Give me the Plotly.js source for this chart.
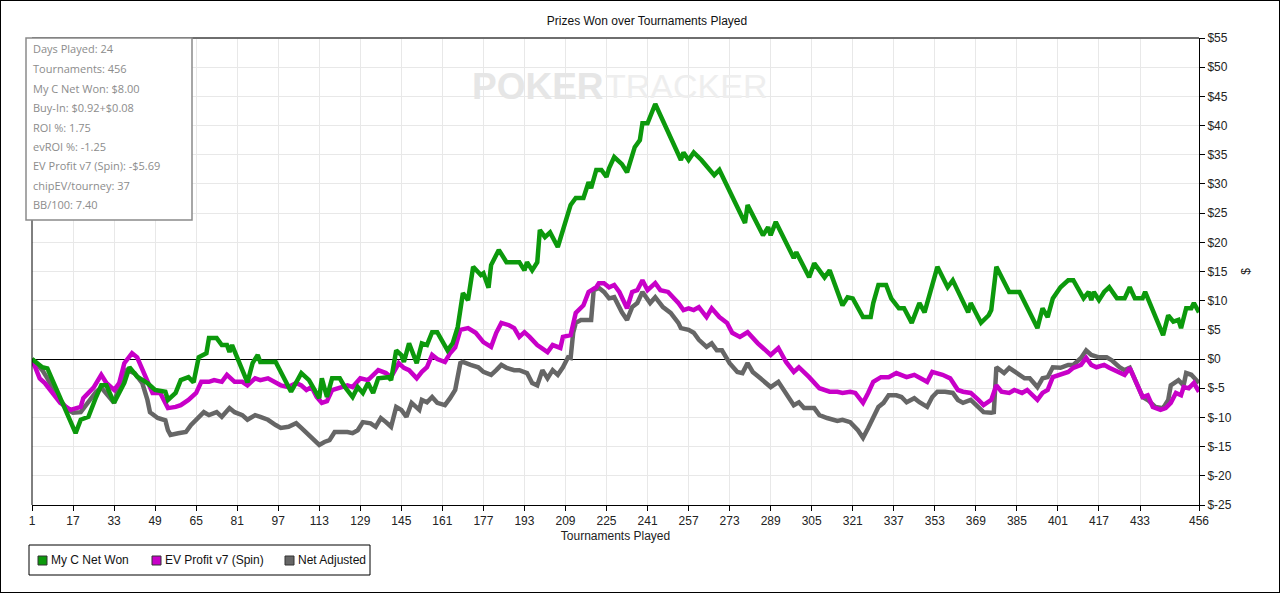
<!DOCTYPE html>
<html>
<head>
<meta charset="utf-8">
<script src="https://cdn.plot.ly/plotly-3.0.1.min.js"></script>
<style>
html,body{margin:0;padding:0;background:#fff;}
#wrap{position:relative;width:1280px;height:593px;}
#chart{position:absolute;left:0;top:0;width:1280px;height:593px;}
#frame{position:absolute;left:0;top:0;width:1280px;height:593px;box-sizing:border-box;border:1px solid #000;pointer-events:none;}
</style>
</head>
<body>
<div id="wrap"><div id="chart"></div><div id="frame"></div></div>
<script>
// ---- Data (tournament number, cumulative $) ----
const netWonT = [1,3,5,7,18,20,23,26,28,30,33,37,39,42,46,49,53,54,57,59,62,64,66,69,70,73,75,77,78,79,85,87,89,90,96,102,106,109,113,114,116,118,121,123,126,128,130,132,134,136,140,141,143,145,146,148,151,153,155,157,159,163,165,167,169,171,173,176,177,179,180,183,186,191,193,194,196,198,199,201,203,206,209,211,213,216,218,219,221,223,225,226,228,231,233,236,238,239,241,244,254,255,257,259,262,265,267,269,279,280,286,288,289,291,298,299,304,306,310,312,317,319,321,325,328,329,331,334,336,339,341,344,347,349,352,354,358,360,366,367,371,374,375,377,382,386,393,395,397,399,402,405,407,411,413,414,415,417,419,421,424,427,429,431,434,435,442,444,446,448,449,451,453,454,456];
const netWonV = [0,-0.7,-1.4,-1.6,-12.7,-10.4,-9.9,-6.5,-4.5,-4.5,-7.5,-4.1,-1.4,-3,-4.1,-5.3,-5.6,-7,-5.8,-3.6,-3.1,-4,0.3,1,3.6,3.6,2.4,2.4,1.2,2.4,-4,-0.7,0.7,-0.5,-0.5,-5.6,-2.4,-3.6,-6.7,-3.3,-6.5,-3.3,-3.3,-4.8,-6.5,-4.8,-5.8,-4.1,-5.8,-3.3,-3.1,-3.6,1.5,0.7,-0.5,2.7,-0.7,2.7,2.4,4.6,4.6,1.5,2.7,5.5,11.3,10.1,15.8,14.4,14.7,12.2,16.1,18.7,16.6,16.6,15.2,16.6,15.2,16.6,22.1,20.9,21.7,19.2,23.5,26.4,27.6,27.6,30.3,29.3,32.4,32.4,31.2,32.7,34.6,33.4,32,36.3,37.5,40.4,40.4,43.7,34.1,35.4,34.1,35.4,34.1,32.4,31.5,32.4,23.3,26.4,21.2,22.6,21.2,23.5,17.3,18.3,14,16.4,14,15.2,9.2,10.6,10.4,7.2,7.2,9.6,12.7,12.7,10.4,8.7,8.7,6.2,9.6,8,12.3,15.8,12.3,13.5,8,9.6,6.2,7.5,8.4,15.8,11.5,11.5,5.3,8.7,7.2,10.4,12.3,13.5,13.5,10.4,11.5,10.1,11.5,10.1,11.5,12.3,10.4,10.4,12.3,10.4,10.4,11.5,4.1,7.5,6.4,6.7,5.3,8.7,8.7,9.6,8];

const evT = [1,4,6,8,12,16,18,20,21,23,25,28,30,33,35,37,40,42,44,46,48,51,54,57,59,62,65,67,70,72,75,77,80,83,85,88,90,93,96,98,101,104,106,108,110,112,114,116,118,121,124,126,129,132,134,136,139,141,144,146,148,151,153,155,157,159,162,164,166,168,171,174,177,180,182,184,187,189,191,193,195,198,202,204,207,208,211,213,216,218,221,222,224,226,228,230,233,235,237,239,241,244,246,249,253,255,257,259,261,264,266,269,272,274,277,280,284,289,292,295,298,300,304,308,312,315,317,320,322,325,327,329,332,335,338,342,345,350,352,356,359,362,364,367,370,372,375,377,379,382,384,387,389,393,395,397,399,402,405,407,410,412,414,416,419,421,424,427,429,431,434,436,438,441,443,445,447,449,450,452,454,456];
const evV = [0,-3.3,-4.1,-5.3,-7.5,-8.7,-8.4,-8.2,-6.7,-5.8,-4.9,-2.7,-4.1,-5.3,-4.1,-0.7,1,0.3,-1.9,-3.6,-5.8,-5.8,-8.4,-8.2,-7.9,-7,-5.8,-3.9,-3.9,-3.6,-3.9,-2.7,-3.9,-3.9,-4.5,-3.3,-3.6,-3.3,-3.9,-4.5,-4.8,-4.1,-4.5,-5.3,-4.8,-6.5,-7.5,-7.2,-5.3,-4.8,-4.5,-4.8,-3.3,-3.6,-2.7,-1.9,-2.4,-3.1,-0.7,-1.5,-1.9,-3.3,-2.2,-1.4,0.7,0,-0.5,1,2,5,5.3,4.5,2.9,2.1,4.5,6.2,5.8,5.3,3.8,4.6,3.8,2.4,1.2,2.4,1.9,3.8,4.1,7.9,9.2,11.5,12.3,13,13,12.3,12.7,11.5,8.7,11.5,11.8,13.5,11.8,13,11.8,11.5,9.6,8.4,8.7,8.4,8.9,7.2,8.7,7.2,6.2,4.5,3.8,4.6,2.7,0.7,1.9,-0.5,-2.2,-1.4,-3.1,-5,-5.6,-5.6,-5.8,-5.6,-5.8,-7.5,-5.8,-3.9,-3.1,-3.1,-2.4,-3.1,-2.7,-3.9,-2.2,-2.7,-3.3,-5.3,-5.6,-5.8,-7,-7.9,-7,-4.5,-5.6,-5.8,-5.3,-5.8,-5.3,-7,-5.8,-5.3,-3.1,-2.7,-2.2,-1.5,-1,0.2,-1,-1.4,-1,-1.5,-2.2,-2.7,-1.5,-3.6,-6.5,-6.2,-8.2,-8.7,-8.4,-7.5,-5.8,-6.2,-4.8,-5,-4.1,-5.6];

const adjT = [1,5,7,11,15,17,20,23,26,28,31,33,35,38,41,44,46,47,50,53,54,55,58,61,63,66,68,70,73,75,78,80,83,85,88,90,93,96,98,101,104,106,109,111,113,115,117,119,121,124,126,128,130,133,135,137,139,141,143,145,147,149,152,153,155,157,159,162,164,166,168,169,172,175,177,180,182,184,186,189,191,194,196,198,200,202,204,206,208,210,211,212,213,215,217,219,220,222,224,226,228,231,233,235,237,239,242,244,247,250,253,254,257,259,261,264,266,268,270,273,276,278,280,282,285,289,292,295,298,300,302,306,308,311,313,315,317,320,323,325,327,329,331,333,335,338,340,342,345,347,350,352,354,357,360,362,364,367,370,372,375,376,377,380,382,385,388,390,393,395,397,399,402,405,407,410,412,414,417,420,422,425,427,429,431,434,436,439,442,444,445,448,450,451,453,456];
const adjV = [0,-1.9,-3.3,-6.5,-8.7,-9.2,-9.1,-7.4,-5.6,-4.9,-6.5,-7.5,-4.5,-1.9,-2.4,-4.1,-7,-9.1,-10.1,-10.5,-12.2,-13,-12.7,-12.5,-11.3,-9.9,-9.1,-9.6,-9.1,-9.9,-8.4,-9.1,-9.6,-10.4,-9.6,-9.9,-10.4,-11.3,-11.8,-11.6,-11,-11.8,-13,-13.9,-14.7,-14.2,-13.9,-12.5,-12.5,-12.5,-12.7,-12.2,-10.8,-11,-11.6,-10.1,-10.8,-11.6,-8.2,-8.7,-9.9,-7.5,-8.7,-7,-7.4,-6.5,-7.5,-7.9,-6.7,-5.3,-0.7,-0.5,-1,-1.4,-2.2,-2.7,-1.9,-1,-1.5,-1.9,-1.9,-2.4,-4.1,-4.5,-1.9,-3.3,-1.9,-2.7,-1.4,0.3,0.2,4.5,6.2,6.7,6.7,6.7,11.8,12.2,11.5,10.4,10.6,8,6.7,8.9,9.6,11.5,9.6,10.6,8.9,7.9,6.2,5.3,5,4.5,3.3,2.1,2.7,1.5,1.5,-0.7,-2.2,-2.4,-0.7,-2.2,-3.3,-4.8,-3.9,-5.8,-7.9,-7.4,-8.4,-8.4,-9.6,-10.1,-10.4,-10.6,-10.4,-10.8,-12.2,-13.5,-11.8,-10.1,-8.2,-7.5,-6.2,-6.2,-6.5,-7.4,-6.7,-7.4,-8.2,-6.5,-5.6,-5.6,-5.8,-7,-7.5,-7,-8.2,-9.1,-9.2,-9.1,-1.4,-2.4,-1.5,-2.4,-3.3,-3.3,-4.8,-3.3,-3.1,-1.4,-1.5,-1,-1,0.2,1.5,0.7,0.3,0.3,-0.2,-1.4,-1.9,-1.5,-3.6,-6.5,-7,-8.2,-8.4,-7,-4.5,-3.6,-4.5,-2.4,-2.7,-4.1];

const xTicks = [1,17,33,49,65,81,97,113,129,145,161,177,193,209,225,241,257,273,289,305,321,337,353,369,385,401,417,433,456];
const yTicks = [-25,-20,-15,-10,-5,0,5,10,15,20,25,30,35,40,45,50,55];
const yTickText = yTicks.map(v => '$' + v);

const seriesNames = ['My C Net Won','EV Profit v7 (Spin)','Net Adjusted'];
const seriesColors = ['#0c990c','#c800c8','#666666'];

const statsLines = ['Days Played: 24','Tournaments: 456','My C Net Won: $8.00','Buy-In: $0.92+$0.08','ROI %: 1.75','evROI %: -1.25','EV Profit v7 (Spin): -$5.69','chipEV/tourney: 37','BB/100: 7.40'];

// ---- Layout helpers (pixel -> paper) ----
const W = 1280, H = 593, ML = 32, MR = 81, MT = 38, MB = 88;
const PW = W - ML - MR, PH = H - MT - MB;
const px = x => (x - ML) / PW;
const py = y => (H - MB - y) / PH;

const traces = [
  {x: adjT, y: adjV, name: seriesNames[2], mode: 'lines', line: {color: seriesColors[2], width: 4.5}},
  {x: evT, y: evV, name: seriesNames[1], mode: 'lines', line: {color: seriesColors[1], width: 4.5}},
  {x: netWonT, y: netWonV, name: seriesNames[0], mode: 'lines', line: {color: seriesColors[0], width: 4.5}}
];

const font = 'Liberation Sans, Arial, sans-serif';
const shapes = [
  {type:'line', xref:'paper', yref:'paper', x0:0, x1:1, y0:1, y1:1, line:{color:'#6e6e6e', width:2}},
  {type:'line', xref:'paper', yref:'paper', x0:0, x1:0, y0:0, y1:1, line:{color:'#000', width:1}},
  // stats box
  {type:'rect', xref:'paper', yref:'paper', x0:px(26), x1:px(192), y0:py(220), y1:py(38), fillcolor:'#fff', line:{color:'#8a8a8a', width:1.5}, layer:'above'},
  // legend box
  {type:'rect', xref:'paper', yref:'paper', x0:px(29), x1:px(370), y0:py(575), y1:py(545), fillcolor:'#fff', line:{color:'#000', width:1}}
];
const annotations = [
  {xref:'paper', yref:'paper', x:px(470), y:py(86), xanchor:'left', yanchor:'middle', text:'<b>POKER</b>', showarrow:false, font:{family:font, size:37, color:'#e6e6e6'}},
  {xref:'paper', yref:'paper', x:px(603), y:py(86), xanchor:'left', yanchor:'middle', text:'TRACKER', showarrow:false, font:{family:font, size:34, color:'#eeeeee'}}
];
const statY = [49,68,88,107,127,146,165,185,204];
statsLines.forEach((t, i) => {
  annotations.push({xref:'paper', yref:'paper', x:px(31), y:py(statY[i]), xanchor:'left', yanchor:'middle', text:t, showarrow:false, font:{family:'Open Sans, Noto Sans, sans-serif', size:11, color:'#8c8c8c'}});
});
const legX = [38, 152, 285];
[0,1,2].forEach(i => {
  shapes.push({type:'rect', xref:'paper', yref:'paper', x0:px(legX[i]), x1:px(legX[i]+9), y0:py(565), y1:py(556), fillcolor:seriesColors[i], line:{color:'#333', width:1}});
  annotations.push({xref:'paper', yref:'paper', x:px(legX[i]+11), y:py(560), xanchor:'left', yanchor:'middle', text:seriesNames[i], showarrow:false, font:{family:font, size:12, color:'#111'}});
});

const layout = {
  width: W, height: H,
  margin: {l: ML, r: MR, t: MT, b: MB},
  paper_bgcolor: '#fff', plot_bgcolor: '#fff',
  showlegend: false,
  title: {text: 'Prizes Won over Tournaments Played', x: px(647), xref: 'paper', xanchor: 'center', y: 1 - 21 / H, yanchor: 'middle', font: {family: font, size: 12, color: '#111'}},
  xaxis: {range: [1, 456], tickvals: xTicks, ticktext: xTicks.map(String), ticks: 'outside', ticklen: 5, tickcolor: '#000',
          showline: true, linecolor: '#000', linewidth: 1, gridcolor: '#e8e8e8', zeroline: false,
          tickfont: {family: font, size: 12, color: '#222'},
          title: {text: 'Tournaments Played', standoff: 4, font: {family: font, size: 12, color: '#222'}}},
  yaxis: {side: 'right', range: [-25, 55], tickvals: yTicks, ticktext: yTickText, ticks: 'outside', ticklen: 5, tickcolor: '#000',
          showline: true, linecolor: '#000', linewidth: 1, gridcolor: '#e8e8e8',
          zeroline: true, zerolinecolor: '#000', zerolinewidth: 1,
          tickfont: {family: font, size: 12, color: '#222'},
          title: {text: '$', standoff: 10, font: {family: font, size: 12, color: '#222'}}},
  shapes: shapes,
  annotations: annotations
};

Plotly.newPlot('chart', traces, layout, {displayModeBar: false, staticPlot: true});
</script>
</body>
</html>
